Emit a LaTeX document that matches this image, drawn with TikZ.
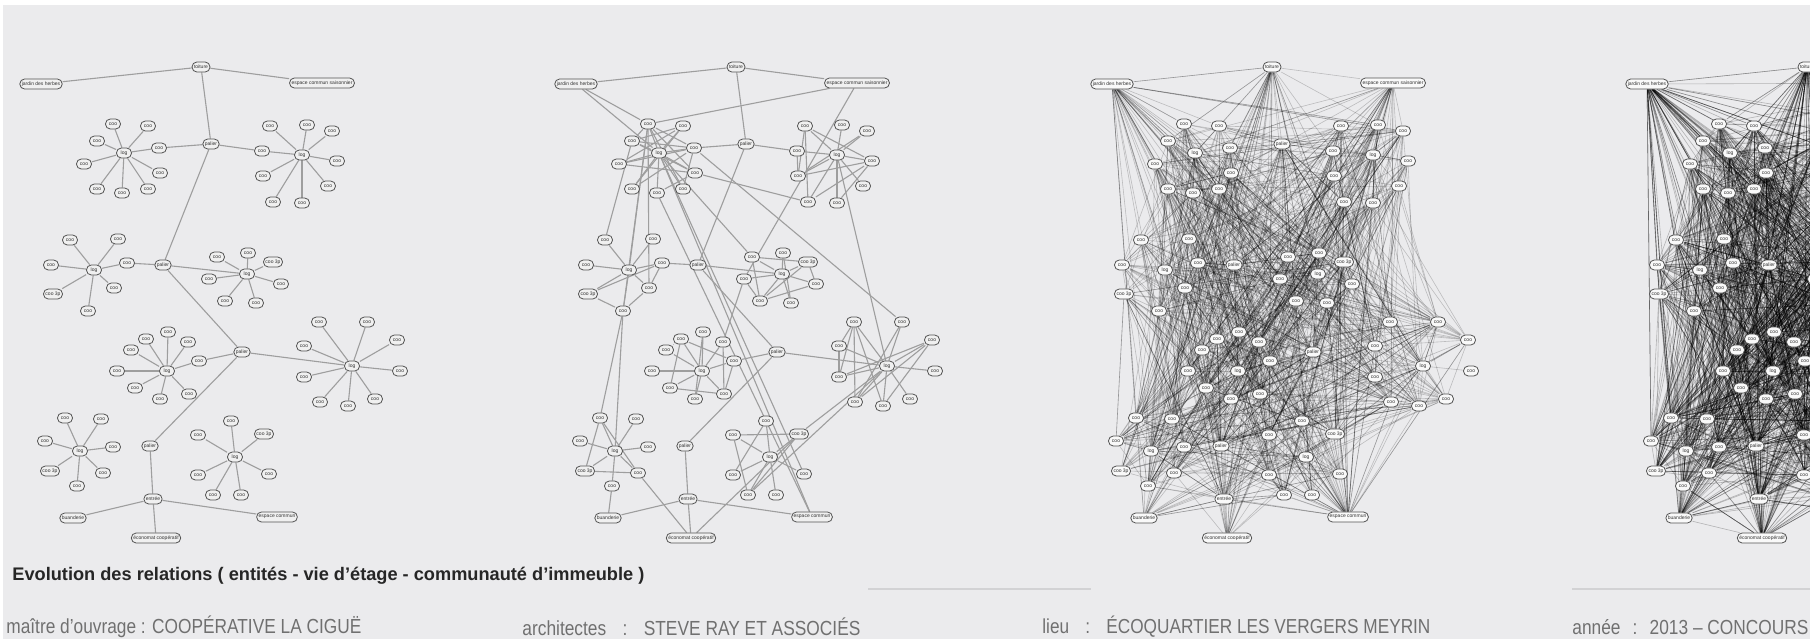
\documentclass[tikz,border=0pt]{standalone}
\usepackage{fontspec}
\usepackage{graphicx}
\setmainfont{Liberation Sans}
\newfontfamily\narrowfont[FakeStretch=0.85]{Liberation Sans}
\pgfdeclarelayer{bg}\pgfdeclarelayer{edges}\pgfsetlayers{bg,edges,main}
\definecolor{panel}{HTML}{EBEBED}
\definecolor{capgray}{HTML}{707070}
\definecolor{rulegray}{HTML}{D2D2D4}
\tikzset{
  nd/.style={draw=gray!65!black, fill=#1, rounded corners=2.4pt, line width=0.4pt,
    inner xsep=1pt, inner ysep=0.4pt, minimum width=7.5pt, minimum height=5pt,
    font=\fontsize{2.5}{2.7}\selectfont, text=black!80},
  eA/.style={draw=black!38, line width=0.55pt},
  eC/.style={draw=black, opacity=0.2, line width=0.3pt},
  eD/.style={draw=black, opacity=0.24, line width=0.3pt},
  caption/.style={anchor=west, inner sep=0pt, text=capgray, font=\narrowfont},
}
\newcommand\layoutnodes[3]{%
  \foreach \nm/\x/\y/\lab [count=\k] in {
    T/201/67/toiture, J/41/84/jardin des herbes, S/322/83/espace commun saisonnier,
    P1/211/144/palier, P2/163/265/palier, P3/242/352/palier, P4/150/446/palier,
    N/153/499/entrée, U/73/518/buanderie, K/156/538/économat coopératif, M/277/517/espace commun,
    A0/124/153/log, A1/113/124/coo, A2/148/126/coo, A3/97/141/coo, A4/159/148/coo,
    A5/84/164/coo, A6/160/173/coo, A7/97/189/coo, A8/122/193/coo, A9/148/189/coo,
    B0/302/155/log, B1/270/126/coo, B2/307/125/coo, B3/332/131/coo, B4/262/151/coo,
    B5/337/161/coo, B6/263/176/coo, B7/328/186/coo, B8/273/202/coo, B9/302/203/coo,
    C0/94/270/log, C1/70/240/coo, C2/118/239/coo, C3/51/265/coo, C4/127/263/coo,
    C5/53/294/coo 3p, C6/114/288/coo, C7/88/311/coo,
    D0/247/274/log, D1/217/257/coo, D2/248/253/coo, D3/273/262/coo 3p, D4/209/279/coo,
    D5/281/284/coo, D6/225/301/coo, D7/256/303/coo,
    E0/167/371/log, E1/146/339/coo, E2/168/332/coo, E3/188/342/coo, E4/131/350/coo,
    E5/199/361/coo, E6/117/371/coo, E7/135/388/coo, E8/189/394/coo, E9/160/399/coo,
    F0/352/366/log, F1/319/322/coo, F2/367/322/coo, F3/397/340/coo, F4/304/346/coo,
    F6/304/377/coo, F7/320/402/coo, F8/348/406/coo, F9/375/399/coo,
    G0/80/451/log, G1/65/418/coo, G2/101/419/coo, G3/45/441/coo, G4/113/447/coo,
    G5/50/471/coo 3p, G6/103/473/coo, G7/77/486/coo,
    H0/235/457/log, H1/231/421/coo, H2/198/435/coo, H3/264/434/coo 3p, H4/198/475/coo,
    H5/269/474/coo, H6/213/495/coo, H7/241/495/coo,
    F5/400/371/coo}{%
    \node[nd=#3, alias=#1\k] (#1\nm) at (\x+#2,\y) {\lab};
  }%
}
\newcommand\treeedges[2]{%
  \foreach \u/\v in {T/J, T/S, T/P1, P1/A4, P1/B4, P1/P2, P2/C4, P2/D0, P2/P3,
    P3/E5, P3/F0, P3/P4, P4/N, N/U, N/K, N/M}{\draw[#2] (#1\u) -- (#1\v);}%
  \foreach \c/\n in {A/9, B/9, C/7, D/7, E/9, F/9, G/7, H/7}{%
    \foreach \i in {1,...,\n}{\draw[#2] (#1\c0) -- (#1\c\i);}}%
}
\newcommand\randedges[4]{% prefix, count, max index, style
  \foreach \i in {1,...,#2}{%
    \pgfmathrandominteger{\ra}{1}{#3}\pgfmathrandominteger{\rb}{1}{#3}%
    \ifnum\ra=\rb\else\draw[#4] (#1\ra) -- (#1\rb);\fi}%
}
\newcommand\hubedges[4]{% prefix, per hub, max index, style
  \foreach \h in {1,2,3,4,5,6,7,8,11}{%
    \foreach \i in {1,...,#2}{%
      \pgfmathrandominteger{\rb}{12}{#3}%
      \draw[#4] (#1\h) -- (#1\rb);}}%
}
\begin{document}
\begin{tikzpicture}[x=0.5pt, y=-0.5pt]
\useasboundingbox (0,0) rectangle (1819,639);
\begin{pgfonlayer}{bg}
  \fill[panel] (3,5) rectangle (1810,639);
\end{pgfonlayer}
\pgfmathsetseed{7}
% ---------- graph 1
\layoutnodes{a}{0}{gray!12}
\begin{pgfonlayer}{edges}\treeedges{a}{eA}\end{pgfonlayer}
% ---------- graph 2
\layoutnodes{b}{535}{gray!12}
\begin{pgfonlayer}{edges}
  \treeedges{b}{eA}
  \foreach \u/\v in {J/A1, J/A0, S/A1, S/D4, D4/E3,
    A1/A4, A1/A6, A1/A9, A1/A3, A3/A6, A3/A4, A5/A4, A5/A6, A7/A4, A8/A6, A2/A5, A2/A7, A9/A4, A2/A3,
    A1/C0, A1/C7, A1/C6, C1/A3, A0/D1, A0/H5, A0/M, A8/M, A4/F2, A6/B8,
    B1/B6, B1/B8, B1/B5, B4/B6, B5/B6, B5/B8, B6/B3, B9/B5, B0/F0,
    C4/C5, C5/C7, C6/C7, C4/C6, C7/G1, C7/G0,
    D1/D3, D1/D6, D3/D5, D5/D6, D6/D3, D4/D6, D2/D7,
    E1/E7, E1/E5, E3/E8, E5/E8, E7/E8, E1/E4, E2/E9,
    F1/F4, F1/F6, F1/F7, F1/F8, F3/F6, F3/F8, F4/F6, F2/F7, F3/F7,
    G1/G5, G1/G6, G5/G6, G7/U, G6/K,
    H2/H3, H2/H6, H3/H6, F0/H3, F0/H6, H3/K, H1/H4}{\draw[eA] (b\u) -- (b\v);}
\end{pgfonlayer}
% ---------- graph 3
\layoutnodes{c}{1071}{gray!5}
\begin{pgfonlayer}{edges}
  \treeedges{c}{eC}
  \hubedges{c}{22}{82}{eC}
  \randedges{c}{1000}{82}{eC}
\end{pgfonlayer}
% ---------- graph 4
\layoutnodes{d}{1606}{gray!5}
\begin{pgfonlayer}{edges}
  \treeedges{d}{eD}
  \hubedges{d}{30}{83}{eD}
  \randedges{d}{1900}{83}{eD}
\end{pgfonlayer}
\fill[white] (1810,0) rectangle (1819,639);
% ---------- texts
\node[anchor=west, inner sep=0pt, text=black!85] (title) at (12,576)
  {\resizebox{316pt}{!}{\bfseries Evolution des relations ( entités - vie d’étage - communauté d’immeuble )}};
\draw[rulegray, line width=0.6pt] (868,589) -- (1091,589);
\draw[rulegray, line width=0.6pt] (1572,589) -- (1810,589);
\node[caption] (cap1) at (6,627) {\resizebox{177.5pt}{!}{maître d’ouvrage : COOPÉRATIVE LA CIGUË}};
\node[caption] (cap2) at (522,627) {\resizebox{169pt}{!}{architectes\hspace{0.8em}:\hspace{0.8em}STEVE RAY ET ASSOCIÉS}};
\node[caption] (cap3) at (1042,627) {\resizebox{194pt}{!}{lieu\hspace{0.8em}:\hspace{0.8em}ÉCOQUARTIER LES VERGERS MEYRIN}};
\node[caption] (cap4) at (1572,627) {\resizebox{118pt}{!}{année\hspace{0.6em}:\hspace{0.6em}2013 – CONCOURS}};
\end{tikzpicture}
\end{document}
